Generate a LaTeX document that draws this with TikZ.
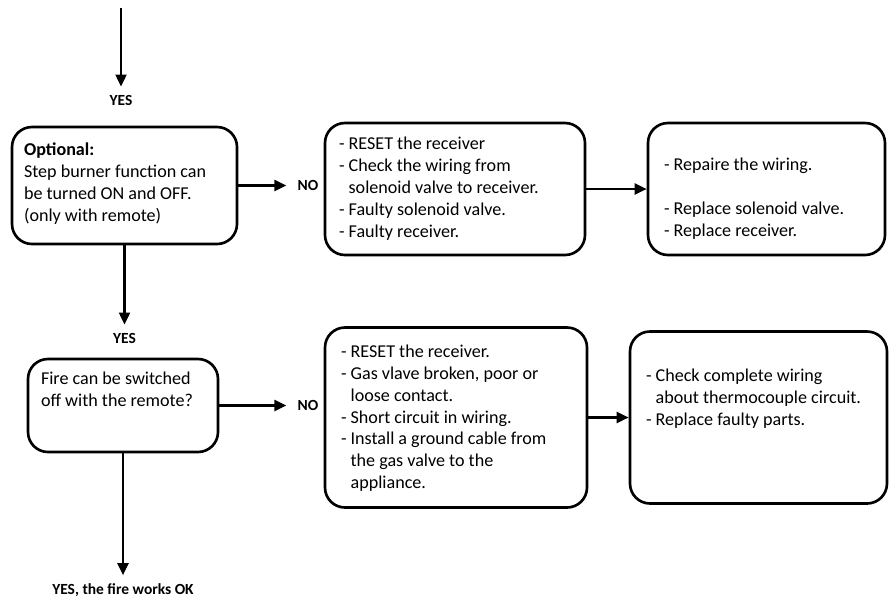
\documentclass[tikz,border=0pt]{standalone}
\usepackage{fontspec}
\setmainfont{Carlito}
\usetikzlibrary{positioning,arrows.meta}

\def\flowBoxLine{1.5pt}
\def\flowArrowLine{1.3pt}
\def\flowBoxRadius{0.4cm}
\def\flowTextSkip{12.5pt}
\def\flowLabelGap{0.16cm}
\newcommand{\ind}{\hphantom{- }}

\tikzset{
  stepbox/.style = {draw, line width = \flowBoxLine, rounded corners = \flowBoxRadius, inner sep = 0pt},
  boxtext/.style = {anchor = north west, inner sep = 0pt, align = left,
    font = \fontsize{10.3}{\flowTextSkip}\selectfont},
  answer/.style = {inner sep = 0pt, font = \bfseries\fontsize{8.8}{10}\selectfont},
  flow/.style = {line width = \flowArrowLine, -{Triangle[length = 2.4mm, width = 2.2mm]}},
}

\begin{document}
\begin{tikzpicture}
  \useasboundingbox (0,0) rectangle (17.8,-12.06);

  %% boxes, first row
  \node [stepbox, minimum width = 4.5cm, minimum height = 2.34cm] (optional) at (2.49,-3.71) {};
  \node [stepbox, minimum width = 5.2cm, minimum height = 2.64cm] (checkRcv) at (9.1,-3.78) {};
  \node [stepbox, minimum width = 4.74cm, minimum height = 2.64cm] (fixRcv) at (15.33,-3.78) {};

  %% boxes, second row
  \node [stepbox, minimum width = 3.8cm, minimum height = 1.86cm] (fireOff) at (2.46,-8.11) {};
  \node [stepbox, minimum width = 5.24cm, minimum height = 3.6cm] (checkGas) at (9.12,-8.35) {};
  \node [stepbox, minimum width = 5.14cm, minimum height = 3.44cm] (fixGas) at (15.17,-8.35) {};

  %% box texts
  \node [boxtext, below right = 0.34cm and 0.26cm of optional.north west] (optionalText)
    {\textbf{Optional:}\\Step burner function can\\be turned ON and OFF.\\(only with remote)};
  \node [boxtext, below right = 0.3cm and 0.3cm of checkRcv.north west] (checkRcvText)
    {- RESET the receiver\\- Check the wiring from\\\ind solenoid valve to receiver.\\- Faulty solenoid valve.\\- Faulty receiver.};
  \node [boxtext, below right = 0.72cm and 0.34cm of fixRcv.north west] (fixRcvText)
    {- Repaire the wiring.\\[\flowTextSkip]- Replace solenoid valve.\\- Replace receiver.};
  \node [boxtext, below right = 0.28cm and 0.28cm of fireOff.north west] (fireOffText)
    {Fire can be switched\\off with the remote?};
  \node [boxtext, below right = 0.36cm and 0.34cm of checkGas.north west] (checkGasText)
    {- RESET the receiver.\\- Gas vlave broken, poor or\\\ind loose contact.\\- Short circuit in wiring.\\- Install a ground cable from\\\ind the gas valve to the\\\ind appliance.};
  \node [boxtext, below right = 0.76cm and 0.34cm of fixGas.north west] (fixGasText)
    {- Check complete wiring\\\ind about thermocouple circuit.\\- Replace faulty parts.};

  %% answers
  \coordinate (start) at (2.42,-0.16);
  \node [answer] (yesTop) at (2.42,-2.0) {YES};
  \node [answer] (yesMid) at (2.49,-6.76) {YES};
  \node [answer] (yesEnd) at (2.46,-11.8) {YES, the fire works OK};
  \node [answer] (noTop) at (6.16,-3.71) {NO};
  \node [answer] (noMid) at (6.16,-8.11) {NO};

  %% arrows
  \draw [flow, shorten > = \flowLabelGap] (start) -- (yesTop);
  \draw [flow, shorten > = \flowLabelGap] (optional) -- (yesMid);
  \draw [flow, shorten > = \flowLabelGap] (fireOff) -- (yesEnd);
  \draw [flow, shorten > = 0.22cm] (optional) -- (noTop);
  \draw [flow, shorten > = 0.22cm] (fireOff) -- (noMid);
  \draw [flow] (checkRcv) -- (fixRcv);
  \draw [flow] (checkGas) -- (fixGas);
\end{tikzpicture}
\end{document}
